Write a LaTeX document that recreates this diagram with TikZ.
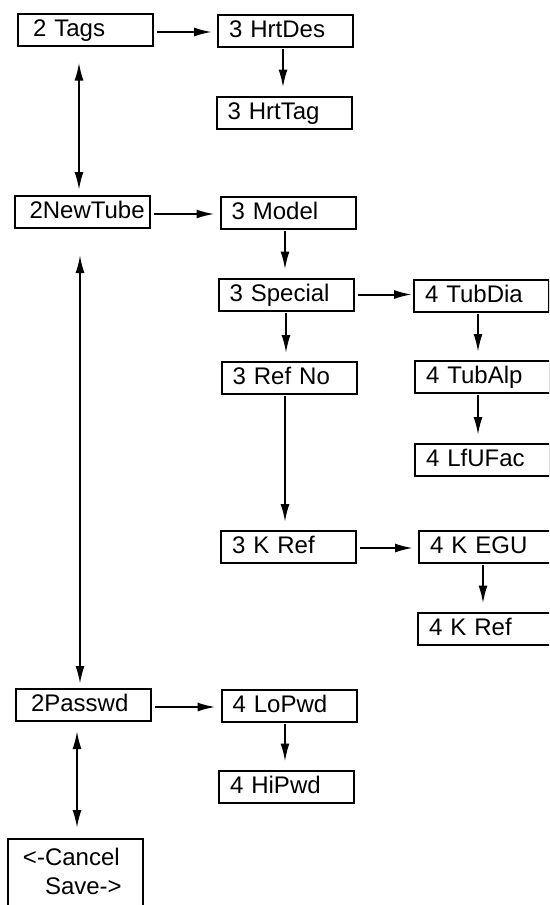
\documentclass[tikz,border=0pt]{standalone}
\usepackage{fontspec}
\setmainfont{Liberation Sans}
\usetikzlibrary{arrows.meta}

\tikzset{
  menubox/.style={draw, line width=2pt, rectangle, inner xsep=11pt, inner ysep=0pt,
    text width=113pt, align=left, minimum height=32pt, text height=17pt, text depth=4pt,
    font=\fontsize{24}{29}\selectfont},
  mainbox/.style={menubox, inner xsep=15pt, text width=105pt},
  cancelbox/.style={draw, line width=2pt, rectangle, inner xsep=15pt, inner ysep=9pt,
    text width=105pt, align=left, font=\fontsize{24}{29}\selectfont},
  link/.style={line width=2pt, -{Latex[length=18pt,width=9pt]}, shorten <=1pt, shorten >=8pt},
  hlink/.style={link, shorten <=3pt, shorten >=5pt},
  twoway/.style={line width=2pt, {Latex[length=18pt,width=9pt]}-{Latex[length=18pt,width=9pt]}}
}

\begin{document}
\begin{tikzpicture}[x=1pt, y=-1pt]
\useasboundingbox (0,0) rectangle (549,905);
\clip (0,0) rectangle (549,905);

\node [mainbox] (tags) at (85.5,29.5) {2 Tags};
\node [mainbox] (newtube) at (82,212) {2NewTube};
\node [mainbox] (passwd) at (83.5,705) {2Passwd};
\node [cancelbox, anchor=north] (cancel) at (75.5,838) {<-Cancel\\\hspace*{22pt}Save->\rule[-40pt]{0pt}{0pt}};

\node [menubox] (hrtdes) at (285.5,31) {3 HrtDes};
\node [menubox] (hrttag) at (284,112.5) {3 HrtTag};
\node [menubox] (model) at (288,213) {3 Model};
\node [menubox] (special) at (286,294.5) {3 Special};
\node [menubox] (refno) at (289,378) {3 Ref No};
\node [menubox] (kref3) at (288.5,547) {3 K Ref};
\node [menubox] (lopwd) at (289,705.5) {4 LoPwd};
\node [menubox] (hipwd) at (286.5,786.5) {4 HiPwd};

\node [menubox] (tubdia) at (481.5,296) {4 TubDia};
\node [menubox] (tubalp) at (482.5,377) {4 TubAlp};
\node [menubox] (lfufac) at (482.5,460) {4 LfUFac};
\node [menubox] (kegu) at (486.5,546.5) {4 K EGU};
\node [menubox] (kref4) at (485.5,628.5) {4 K Ref};

\draw [twoway, shorten <=16pt, shorten >=5pt] ([xshift=-6.5pt]tags.south) -- ([xshift=-6.5pt]tags.south |- newtube.north);
\draw [twoway, shorten <=26pt, shorten >=4pt] ([xshift=-2pt]newtube.south) -- ([xshift=-2pt]newtube.south |- passwd.north);
\draw [twoway, shorten <=9pt, shorten >=10pt] ([xshift=-6.5pt]passwd.south) -- ([xshift=-6.5pt]passwd.south |- cancel.north);

\draw [hlink] (tags.east) ++(0,2.5) -- (hrtdes.west |- 0,32);
\draw [hlink] (newtube.east) ++(0,2) -- (model.west |- 0,214);
\draw [hlink, shorten >=1pt] (special.east) -- (special.east -| tubdia.west);
\draw [hlink] (kref3.east) ++(0,1) -- (kegu.west |- 0,548);
\draw [hlink] (passwd.east) ++(0,2) -- (lopwd.west |- 0,707);

\draw [link] ([xshift=-2.5pt]hrtdes.south) -- ([xshift=-2.5pt]hrtdes.south |- hrttag.north);
\draw [link] ([xshift=-3pt]model.south) -- ([xshift=-3pt]model.south |- special.north);
\draw [link] (special.south) -- (special.south |- refno.north);
\draw [link] ([xshift=-4pt]refno.south) -- ([xshift=-4pt]refno.south |- kref3.north);
\draw [link] ([xshift=-4pt]lopwd.south) -- ([xshift=-4pt]lopwd.south |- hipwd.north);
\draw [link] ([xshift=-3.5pt]tubdia.south) -- ([xshift=-3.5pt]tubdia.south |- tubalp.north);
\draw [link] ([xshift=-4.5pt]tubalp.south) -- ([xshift=-4.5pt]tubalp.south |- lfufac.north);
\draw [link] ([xshift=-3.5pt]kegu.south) -- ([xshift=-3.5pt]kegu.south |- kref4.north);
\end{tikzpicture}
\end{document}
